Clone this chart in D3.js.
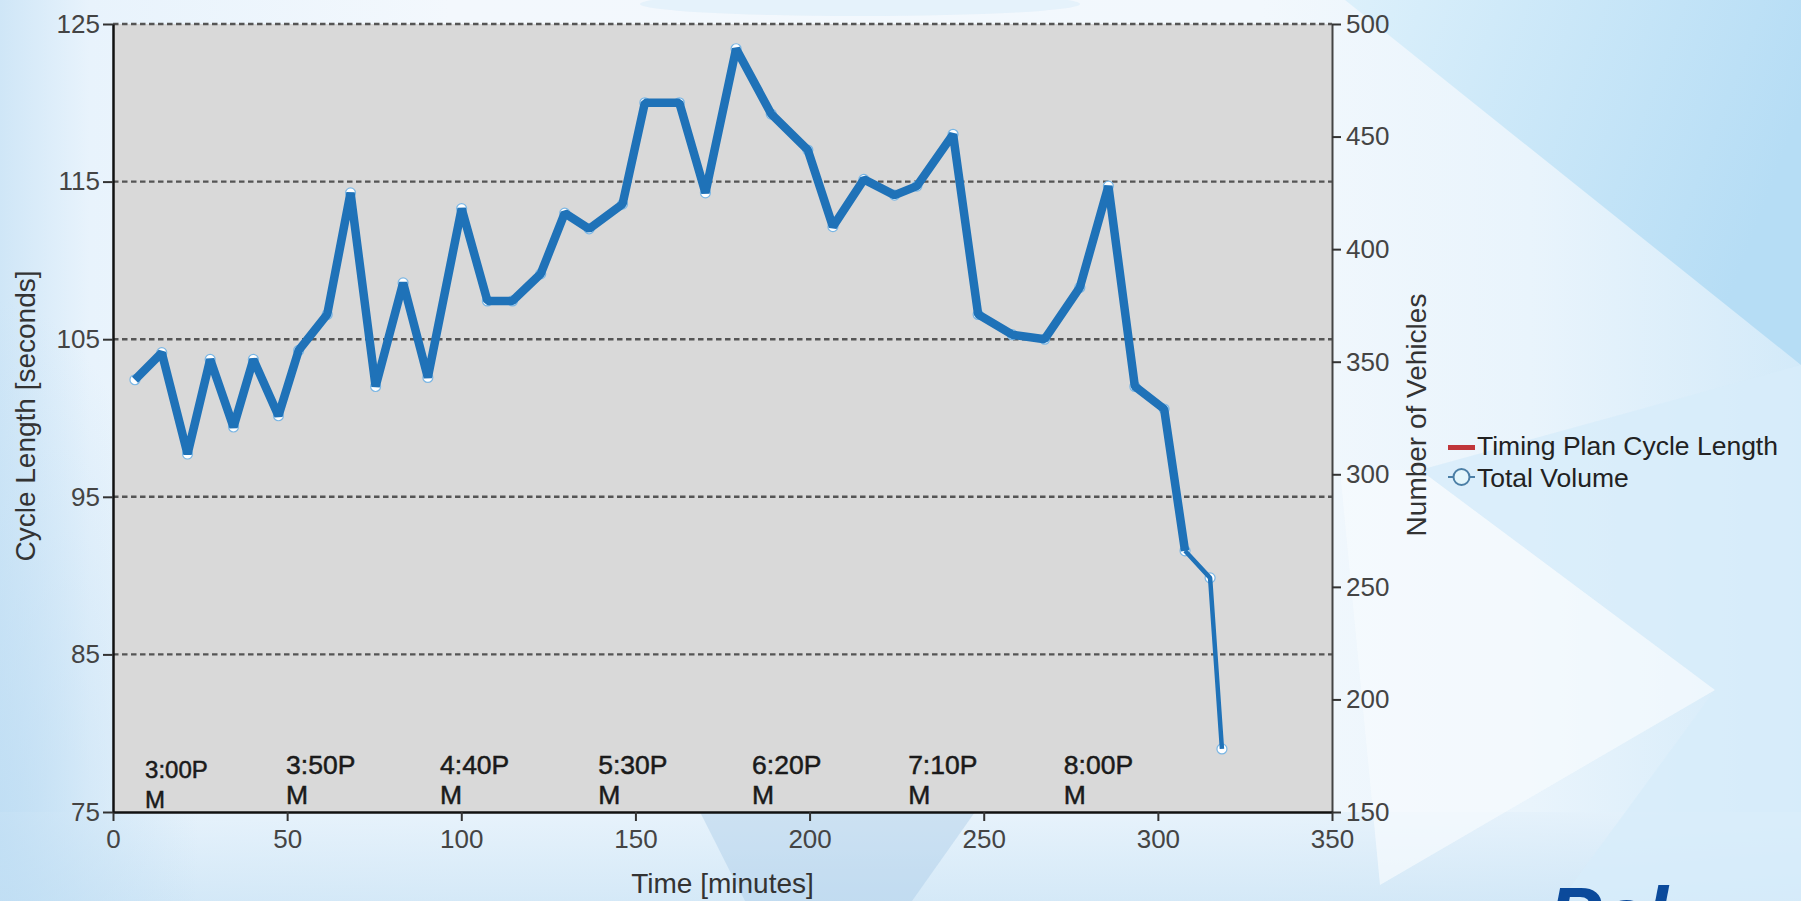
<!DOCTYPE html>
<html>
<head>
<meta charset="utf-8">
<script src="https://cdn.jsdelivr.net/npm/d3@7"></script>
<style>
  html, body { margin: 0; padding: 0; background: #eef6fc; overflow: hidden; }
  svg { display: block; font-family: "Liberation Sans", Arial, sans-serif; }
</style>
</head>
<body>
<svg id="chart" width="1801" height="901"></svg>
<script>
// Minutes after 3:00 PM for each count interval, and the vehicles counted in it
const minutes = [6.3, 14.0, 21.4, 27.9, 34.6, 40.3, 47.5, 53.3, 61.5, 68.2,
                 75.4, 83.3, 90.4, 100.1, 107.5, 114.7, 122.8, 129.7, 136.7, 146.3,
                 152.7, 162.6, 170.1, 178.9, 189.0, 199.5, 206.7, 215.6, 224.4, 230.8,
                 241.2, 248.4, 258.2, 267.5, 277.6, 285.8, 293.4, 301.8, 307.8, 315.0,
                 318.4];
const totalVolume = [342, 354, 309, 351, 321, 351, 326, 355, 371, 425,
                     339, 385, 343, 418, 377, 377, 389, 416, 409, 420,
                     465, 465, 425, 489, 460, 444, 410, 431, 424, 428,
                     451, 371, 362, 360, 383, 428, 339, 329, 266, 254,
                     178];

// Timing plan cycle lengths (seconds): no plan records in this period
const cycleLengths = [];

// Axis ticks
const cycleTicks = [75, 85, 95, 105, 115, 125];
const volumeTicks = [150, 200, 250, 300, 350, 400, 450, 500];
const minuteTicks = [0, 50, 100, 150, 200, 250, 300, 350];

// Clock-time annotations along the bottom of the plot (anchored in minutes)
const clockLabels = ["3:00PM", "3:50PM", "4:40PM", "5:30PM", "6:20PM", "7:10PM", "8:00PM"];
const clockMinutes = [9.2, 49.7, 93.9, 139.3, 183.5, 228.3, 273.0];

const legendItems = ["Timing Plan Cycle Length", "Total Volume"];

// ---------------------------------------------------------------------------
const W = 1801, H = 901;
const plot = { left: 113, right: 1332, top: 24, bottom: 812 };

const svg = d3.select("#chart");

const x = d3.scaleLinear().domain([0, 350]).range([plot.left, plot.right]);
const yCycle = d3.scaleLinear().domain([75, 125]).range([plot.bottom, plot.top]);
const yVol = d3.scaleLinear().domain([150, 500]).range([plot.bottom, plot.top]);

// ---- slide background ------------------------------------------------------
const defs = svg.append("defs");
const bgGrad = defs.append("linearGradient").attr("id", "bgH")
  .attr("x1", 0).attr("x2", 1).attr("y1", 0).attr("y2", 0);
[[0, "#cfe6f7"], [0.05, "#e8f3fc"], [0.25, "#f3f8fd"], [0.7, "#f2f8fd"], [0.85, "#e9f4fc"], [1, "#d3eaf9"]]
  .forEach(([o, c]) => bgGrad.append("stop").attr("offset", o).attr("stop-color", c));

const cornerGrad = defs.append("linearGradient").attr("id", "corner")
  .attr("x1", 0).attr("x2", 1).attr("y1", 0).attr("y2", 0.3);
[[0, "#dcf0fb"], [1, "#b6ddf5"]]
  .forEach(([o, c]) => cornerGrad.append("stop").attr("offset", o).attr("stop-color", c));

const bottomGrad = defs.append("linearGradient").attr("id", "bottomBand")
  .attr("x1", 0).attr("x2", 0).attr("y1", 0).attr("y2", 1);
[[0, "#e4f1fb"], [1, "#cde5f6"]]
  .forEach(([o, c]) => bottomGrad.append("stop").attr("offset", o).attr("stop-color", c));

const leftGrad = defs.append("radialGradient").attr("id", "leftGlow")
  .attr("cx", 0).attr("cy", 0.9).attr("r", 0.9);
[[0, "#bcdcf3"], [1, "#bcdcf3", 0]]
  .forEach(([o, c, a]) => leftGrad.append("stop").attr("offset", o).attr("stop-color", c)
    .attr("stop-opacity", a === undefined ? 1 : a));

const bg = svg.append("g");
bg.append("rect").attr("width", W).attr("height", H).attr("fill", "url(#bgH)");
bg.append("rect").attr("x", 0).attr("y", plot.bottom).attr("width", W).attr("height", H - plot.bottom)
  .attr("fill", "url(#bottomBand)").attr("opacity", 0.8);
bg.append("rect").attr("x", 0).attr("y", 300).attr("width", 220).attr("height", H - 300)
  .attr("fill", "url(#leftGlow)").attr("opacity", 0.8);
bg.append("polygon").attr("points", "1345,0 1801,0 1801,365").attr("fill", "url(#corner)");
bg.append("polygon").attr("points", "1801,365 1801,901 1560,901 1715,690 1420,470")
  .attr("fill", "#d7ecfa").attr("opacity", 0.8);
bg.append("polygon").attr("points", "1420,470 1715,690 1380,885 1340,470")
  .attr("fill", "#f6fbfe").attr("opacity", 0.7);
bg.append("polygon").attr("points", "700,812 975,812 912,901 745,901")
  .attr("fill", "#a6c9e7").attr("opacity", 0.4);
bg.append("ellipse").attr("cx", 860).attr("cy", 4).attr("rx", 220).attr("ry", 12)
  .attr("fill", "#d8ecf9").attr("opacity", 0.5);

// ---- plot area -------------------------------------------------------------
svg.append("rect")
  .attr("x", plot.left).attr("y", plot.top)
  .attr("width", plot.right - plot.left).attr("height", plot.bottom - plot.top)
  .attr("fill", "#d9d9d9");

// dashed horizontal grid on the cycle-length scale
svg.append("g").selectAll("line")
  .data(cycleTicks.filter(v => v > 75))
  .join("line")
  .attr("x1", plot.left).attr("x2", plot.right)
  .attr("y1", d => yCycle(d)).attr("y2", d => yCycle(d))
  .attr("stroke", "#555").attr("stroke-width", 2.4)
  .attr("stroke-dasharray", "5.5 3.5");

// ---- axes ------------------------------------------------------------------
function styleAxis(g, domainColor, domainWidth) {
  g.select(".domain").attr("stroke", domainColor).attr("stroke-width", domainWidth);
  g.selectAll(".tick line").attr("stroke", "#333").attr("stroke-width", 2);
  g.selectAll(".tick text").attr("fill", "#444").attr("font-size", 26)
    .attr("font-family", "'Liberation Sans', Arial, sans-serif");
}

svg.append("g")
  .attr("transform", `translate(${plot.right},0)`)
  .call(d3.axisRight(yVol).tickValues(volumeTicks).tickSize(9).tickPadding(5).tickSizeOuter(0))
  .call(g => styleAxis(g, "#444", 2));

svg.append("g")
  .attr("transform", `translate(0,${plot.bottom})`)
  .call(d3.axisBottom(x).tickValues(minuteTicks).tickSize(9).tickPadding(9).tickSizeOuter(0))
  .call(g => styleAxis(g, "#111", 2.5));

svg.append("g")
  .attr("transform", `translate(${plot.left},0)`)
  .call(d3.axisLeft(yCycle).tickValues(cycleTicks).tickSize(10).tickPadding(3).tickSizeOuter(0))
  .call(g => styleAxis(g, "#111", 2.5));

// ---- clock-time annotations -----------------------------------------------
const clock = svg.append("g").attr("fill", "#1a1a1a");
clockLabels.forEach((lab, i) => {
  const small = i === 0;
  const t = clock.append("text")
    .attr("font-size", small ? 24 : 26.5)
    .attr("stroke", "#1a1a1a").attr("stroke-width", 0.5);
  const x0 = x(clockMinutes[i]);
  t.append("tspan").attr("x", x0).attr("y", small ? 778 : 774).text(lab.slice(0, -1));
  t.append("tspan").attr("x", x0).attr("y", small ? 808 : 804).text(lab.slice(-1));
});

// ---- total volume series ---------------------------------------------------
const pts = minutes.map((m, i) => [m, totalVolume[i]]);
const line = d3.line().x(d => x(d[0])).y(d => yVol(d[1]));
const blue = "#1f72b8";

svg.append("g").selectAll("circle")
  .data(pts)
  .join("circle")
  .attr("cx", d => x(d[0])).attr("cy", d => yVol(d[1]))
  .attr("r", 5)
  .attr("fill", "#ffffff").attr("stroke", "#7ab6e4").attr("stroke-width", 1.2);

svg.append("path")
  .datum(pts.slice(0, 39))
  .attr("d", line)
  .attr("fill", "none").attr("stroke", blue)
  .attr("stroke-width", 8.5).attr("stroke-linejoin", "bevel");

svg.append("path")
  .datum(pts.slice(38))
  .attr("d", line)
  .attr("fill", "none").attr("stroke", blue)
  .attr("stroke-width", 4.5).attr("stroke-linejoin", "bevel");

// ---- axis titles -------------------------------------------------------------
svg.append("text")
  .attr("transform", "translate(35,416) rotate(-90)")
  .attr("text-anchor", "middle").attr("font-size", 28).attr("fill", "#333")
  .text("Cycle Length [seconds]");

svg.append("text")
  .attr("transform", "translate(1426,415) rotate(-90)")
  .attr("text-anchor", "middle").attr("font-size", 28).attr("fill", "#333")
  .text("Number of Vehicles");

svg.append("text")
  .attr("x", x(175)).attr("y", 893)
  .attr("text-anchor", "middle").attr("font-size", 28).attr("fill", "#333")
  .text("Time [minutes]");

// ---- legend ------------------------------------------------------------------
const lg = svg.append("g").attr("font-size", 26.5).attr("fill", "#222");
lg.append("rect").attr("x", 1448).attr("y", 445).attr("width", 27).attr("height", 5)
  .attr("fill", "#c0363a");
lg.append("text").attr("x", 1477).attr("y", 455).text(legendItems[0]);
lg.append("line").attr("x1", 1448).attr("x2", 1475).attr("y1", 477).attr("y2", 477)
  .attr("stroke", "#4b7fa6").attr("stroke-width", 2);
lg.append("circle").attr("cx", 1461.5).attr("cy", 477).attr("r", 8)
  .attr("fill", "#e3f6fc").attr("stroke", "#4b7fa6").attr("stroke-width", 2);
lg.append("text").attr("x", 1477).attr("y", 487).text(legendItems[1]);

// ---- slide logo (runs off the bottom edge) ---------------------------------
svg.append("text")
  .attr("x", 1548).attr("y", 943)
  .attr("font-size", 80).attr("font-weight", "bold").attr("font-style", "italic")
  .attr("fill", "#0b4a9b")
  .text("Pel");
</script>
</body>
</html>
